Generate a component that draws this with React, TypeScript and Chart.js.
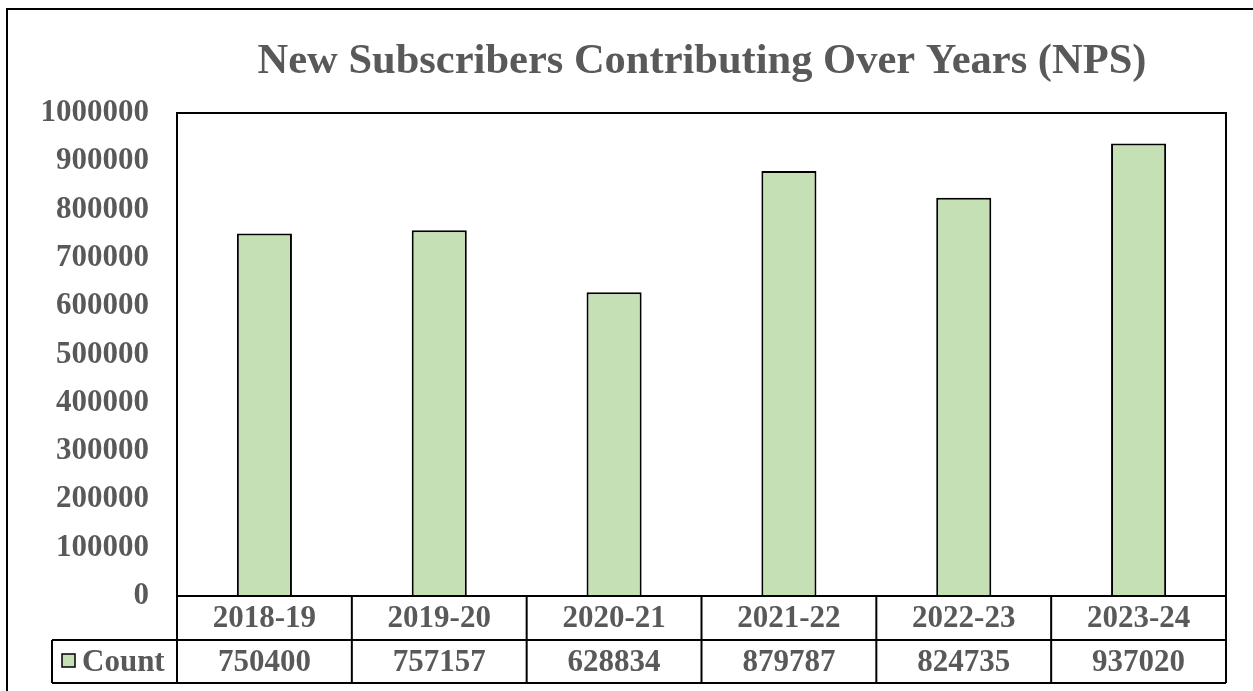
import React, { useEffect, useRef } from "react";
import { Chart, registerables } from "chart.js";

Chart.register(...registerables);

const TITLE = "New Subscribers Contributing Over Years (NPS)";
const categories = ["2018-19", "2019-20", "2020-21", "2021-22", "2022-23", "2023-24"];
const seriesName = "Count";
const counts = [750400, 757157, 628834, 879787, 824735, 937020];
const yTicks = [0, 100000, 200000, 300000, 400000, 500000, 600000, 700000, 800000, 900000, 1000000];

const FONT = "'Liberation Serif', 'Times New Roman', serif";
const TEXT = "#595959";
const BAR = "#c5e0b4";

const decorPlugin = {
  id: "decor",
  afterDraw(chart: any) {
    const ctx = chart.ctx as CanvasRenderingContext2D;
    const a = chart.chartArea;
    const W = chart.width;
    const H = chart.height;
    const xs = chart.scales.x;
    ctx.save();
    // outer border
    ctx.strokeStyle = "#000";
    ctx.lineWidth = 2;
    ctx.beginPath();
    ctx.moveTo(W + 2, 9);
    ctx.lineTo(7, 9);
    ctx.lineTo(7, H + 2);
    ctx.stroke();

    // title
    ctx.fillStyle = TEXT;
    ctx.font = `bold 42.5px ${FONT}`;
    ctx.textAlign = "center";
    ctx.textBaseline = "alphabetic";
    ctx.fillText(TITLE, 702, 73);

    // plot border
    ctx.lineWidth = 2;
    ctx.strokeStyle = "#000";
    ctx.strokeRect(a.left, a.top, a.right - a.left, a.bottom - a.top);

    // data table
    const rowH = 44;
    const r1 = a.bottom;
    const r2 = r1 + rowH;
    const r3 = r2 + 43;
    const legendLeft = 52;
    ctx.beginPath();
    ctx.moveTo(a.left, r1);
    ctx.lineTo(a.left, r3);
    ctx.moveTo(a.right, r1);
    ctx.lineTo(a.right, r3);
    ctx.moveTo(legendLeft, r2);
    ctx.lineTo(a.right, r2);
    ctx.moveTo(legendLeft, r3);
    ctx.lineTo(a.right, r3);
    ctx.moveTo(legendLeft, r2);
    ctx.lineTo(legendLeft, r3);
    const step = (a.right - a.left) / categories.length;
    for (let i = 1; i < categories.length; i++) {
      const x = a.left + step * i;
      ctx.moveTo(x, r1);
      ctx.lineTo(x, r3);
    }
    ctx.stroke();

    ctx.font = `bold 31px ${FONT}`;
    ctx.fillStyle = TEXT;
    ctx.textAlign = "center";
    ctx.textBaseline = "middle";
    categories.forEach((c, i) => {
      const cx = xs.getPixelForValue(i);
      ctx.fillText(c, cx, (r1 + r2) / 2 + 1);
      ctx.fillText(String(counts[i]), cx, (r2 + r3) / 2 + 1);
    });

    // legend key
    ctx.fillStyle = BAR;
    ctx.fillRect(62, 654, 13, 13);
    ctx.lineWidth = 1.5;
    ctx.strokeStyle = "#000";
    ctx.strokeRect(62, 654, 13, 13);
    ctx.fillStyle = TEXT;
    ctx.textAlign = "left";
    ctx.fillText(seriesName, 82, (r2 + r3) / 2 + 1);
    ctx.restore();
  },
};

export default function App() {
  const ref = useRef<HTMLCanvasElement | null>(null);
  useEffect(() => {
    if (!ref.current) return;
    const chart = new Chart(ref.current, {
      type: "bar",
      data: {
        labels: categories,
        datasets: [
          {
            label: seriesName,
            data: counts,
            backgroundColor: BAR,
            borderColor: "#000",
            borderWidth: 2,
            borderSkipped: "bottom",
            barPercentage: 0.315,
            categoryPercentage: 1,
          },
        ],
      },
      options: {
        responsive: false,
        animation: false,
        layout: { padding: { left: 0, top: 113, right: 27, bottom: 95 } },
        plugins: { legend: { display: false }, title: { display: false }, tooltip: { enabled: false } },
        scales: {
          x: { display: false },
          y: {
            min: 0,
            max: 1000000,
            afterFit(scale: any) {
              scale.width = 177;
            },
            afterBuildTicks(scale: any) {
              scale.ticks = yTicks.map((v) => ({ value: v }));
            },
            grid: { display: false, drawTicks: false },
            border: { display: false },
            ticks: {
              padding: 28,
              color: TEXT,
              font: { family: FONT, size: 31, weight: "bold" },
              callback: (v: any) => String(v),
            },
          },
        },
      },
      plugins: [decorPlugin],
    });
    return () => chart.destroy();
  }, []);
  return (
    <div style={{ position: "absolute", left: 0, top: 0, width: 1253, height: 691, background: "#fff" }}>
      <canvas ref={ref} width={1253} height={691} style={{ display: "block" }} />
    </div>
  );
}
